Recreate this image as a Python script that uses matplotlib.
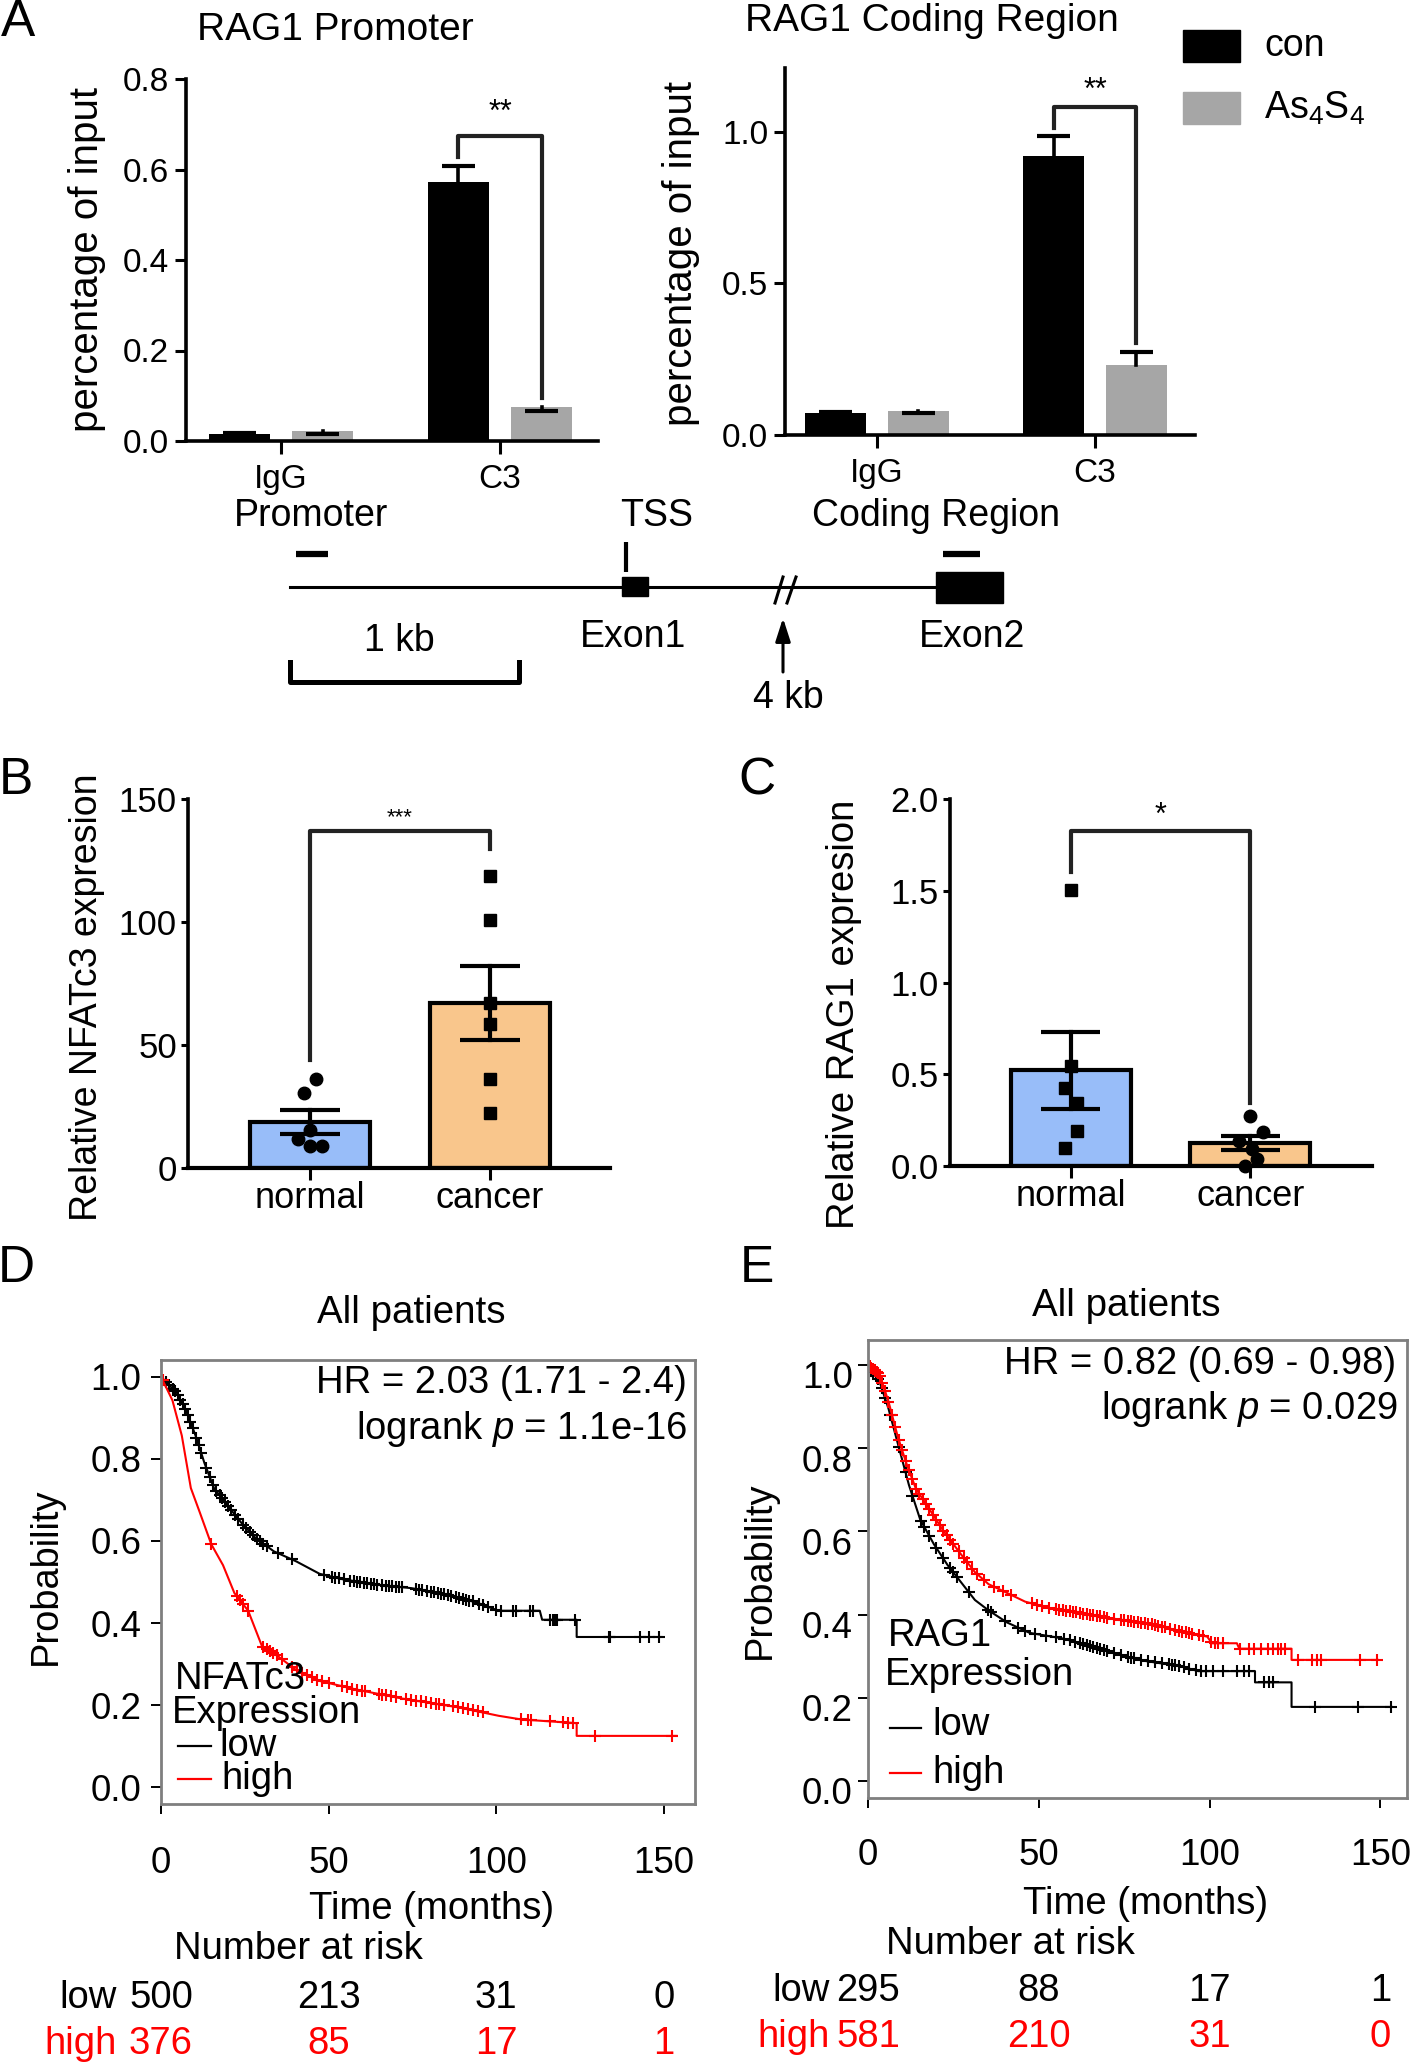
import numpy as np
import matplotlib.pyplot as plt
from matplotlib.patches import Rectangle
from matplotlib import transforms

plt.rcParams['font.family'] = ['Liberation Sans', 'DejaVu Sans']
plt.rcParams['mathtext.fontset'] = 'custom'
plt.rcParams['mathtext.rm'] = 'Liberation Sans'
plt.rcParams['mathtext.it'] = 'Liberation Sans:italic'

# ---------------- data ----------------
# A : ChIP, percentage of input (bar top and end of the error bar)
chip_groups = ['IgG', 'C3']
prom_con = [0.015, 0.572]
prom_con_end = [0.017, 0.607]
prom_as = [0.022, 0.076]
prom_as_end = [0.015, 0.067]
cod_con = [0.071, 0.920]
cod_con_end = [0.076, 0.986]
cod_as = [0.080, 0.231]
cod_as_end = [0.071, 0.275]

# B / C : relative expression
tissue = ['normal', 'cancer']
nfat_mean = [18.7, 67.2]
nfat_sem = [4.75, 15.1]
nfat_normal = [36.2, 30.5, 15.6, 11.8, 9.1, 9.1]
nfat_cancer = [118.8, 100.7, 66.9, 58.6, 36.0, 22.4]
rag_mean = [0.521, 0.127]
rag_sem = [0.21, 0.038]
rag_normal = [1.506, 0.543, 0.425, 0.344, 0.19, 0.10]
rag_cancer = [0.275, 0.185, 0.136, 0.09, 0.04, 0.0]

# D : KM NFATc3
d_low_t = [0, 4.8, 7.5, 10.3, 13, 15.8, 19.9, 24, 28, 33.6, 40.4, 47.3, 54, 63.7, 74.7,
           82.9, 93.8, 100.7, 113, 113.7, 124, 124, 149.3]
d_low_s = [1.0, 0.96, 0.917, 0.857, 0.789, 0.729, 0.686, 0.644, 0.609, 0.575, 0.55, 0.52,
           0.507, 0.494, 0.485, 0.473, 0.451, 0.43, 0.43, 0.408, 0.408, 0.366, 0.366]
d_low_cens = [1.5, 2.5, 3.5, 4.2, 5, 5.8, 6.5, 7.2, 8, 8.8, 9.5, 10.5, 11.2, 12, 13.5, 14.5,
              15.5, 16.5, 17.5, 18.2, 19, 20, 21, 22, 23, 24.5, 25.5, 26.5, 27.5, 28.5, 29.5,
              30.5, 31.5, 35, 39, 48.6, 51, 52, 53, 54.5, 56.5, 57.5, 58.5, 59.5, 60.5, 61.5,
              62.5, 63.5, 64.5, 66, 67, 68, 69, 70, 71, 72, 76, 77, 78, 79.5, 80.5, 81.5, 82.5,
              83.5, 84.5, 85.5, 86.5, 88, 89, 90, 91, 92, 93, 95, 96, 97.5, 100, 101.5, 105,
              106, 110, 111, 116, 116.8, 117.5, 118, 123.5, 133.6, 134, 143, 145.5, 148.6]
d_high_t = [0, 3.4, 6.2, 8.9, 11.6, 15, 18.5, 21.9, 26, 30.1, 34.9, 40.4, 47.3, 58.2, 71.9,
            88.4, 100.7, 107.5, 124, 124, 153.8]
d_high_s = [1.0, 0.943, 0.857, 0.729, 0.669, 0.592, 0.541, 0.473, 0.43, 0.344, 0.319, 0.285,
            0.259, 0.238, 0.216, 0.195, 0.174, 0.165, 0.156, 0.125, 0.125]
d_high_cens = [0.5, 15, 22.6, 23.5, 24.5, 26, 30.5, 31.5, 32.5, 33.5, 34.5, 36, 39, 40.5, 42,
               43.5, 45, 46.5, 48, 50, 54, 55.5, 57, 58.5, 60, 61, 65, 66, 67, 68.5, 70, 73,
               74.5, 76, 77.5, 79, 80.5, 82, 83, 84.5, 87, 88.5, 90, 91.5, 93, 94.5, 96, 107.5,
               109.5, 110.5, 116, 120, 121.5, 123, 129.5, 152.5]
d_risk_low = ['500', '213', '31', '0']
d_risk_high = ['376', '85', '17', '1']

# E : KM RAG1
e_low_t = [0, 3.3, 6, 8.7, 12, 15.3, 19.3, 23.3, 27.3, 31.3, 35.3, 40.7, 47.3, 56.7, 64.7,
           72.7, 80.7, 91.3, 96.7, 113.3, 113.3, 124, 124, 153.3]
e_low_s = [1.0, 0.962, 0.895, 0.812, 0.711, 0.628, 0.569, 0.519, 0.477, 0.435, 0.41, 0.381,
           0.356, 0.343, 0.326, 0.305, 0.289, 0.276, 0.264, 0.264, 0.237, 0.237, 0.178, 0.178]
e_low_cens = [0.8, 1.5, 2.3, 3, 4, 5, 6.5, 9, 11, 13, 15.5, 16.5, 18, 20, 22, 24, 25, 26, 29.5,
              35, 36, 40, 44, 46, 49, 52, 55, 57.5, 59, 60.5, 62, 63, 64, 65, 66, 67, 68, 69,
              70, 72, 74, 76, 77, 78, 80, 82, 84, 86, 88, 89, 90, 91, 92.5, 94, 96, 97.5, 99,
              101, 104, 108, 110, 111.5, 116, 117.5, 118.5, 131, 143.5, 153]
e_high_t = [0, 3.3, 6, 8.7, 11.3, 14, 18, 22, 27.3, 31.3, 35.3, 40.7, 46, 54, 63.3, 72.7, 83.3,
            91.3, 99.3, 100.7, 108, 108.7, 124, 124, 149.3]
e_high_s = [1.0, 0.979, 0.912, 0.828, 0.762, 0.703, 0.653, 0.602, 0.544, 0.502, 0.473, 0.452,
            0.431, 0.414, 0.402, 0.389, 0.377, 0.36, 0.347, 0.331, 0.331, 0.318, 0.318, 0.291,
            0.291]
e_high_cens = [0.5, 1, 1.5, 2, 2.5, 3, 3.5, 4.2, 5, 6, 7, 8, 9, 10, 11, 12, 13, 14, 15, 16, 17,
               18, 19, 20, 21, 22, 23, 24, 25, 26.5, 28, 29, 30.5, 32, 34, 37, 39.5, 42, 48,
               49.5, 51, 53, 55, 56, 57, 58, 59, 60, 61, 62, 63, 64, 65, 66, 67, 68, 69, 70, 72,
               74, 75, 76, 77, 78, 79, 80, 81, 82, 83, 84, 85, 86, 87, 88.5, 90, 91, 92, 93, 94,
               95, 97, 98, 100.5, 101.5, 102.5, 104, 109, 111.5, 113, 115, 117, 118.5, 120, 121,
               122, 126, 130, 131.5, 132.5, 144, 149]
e_risk_low = ['295', '88', '17', '1']
e_risk_high = ['581', '210', '31', '0']
km_times = [0, 50, 100, 150]

# ---------------- layout ----------------
W, H = 1413, 2065
fig = plt.figure(figsize=(W / 100, H / 100), dpi=100)


def axes_px(l, t, r, b):
    return fig.add_axes([l / W, 1 - b / H, (r - l) / W, (b - t) / H])


# overlay in pixel coordinates for labels and the gene scheme
ov = fig.add_axes([0, 0, 1, 1], zorder=10)
ov.set_xlim(0, W)
ov.set_ylim(H, 0)
ov.axis('off')
ov.patch.set_alpha(0)

FS = 27


def txt(x, y, s, size=FS, **kw):
    kw.setdefault('ha', 'center')
    kw.setdefault('va', 'center')
    ov.text(x, y, s, fontsize=size, **kw)


def graphpad_axes(ax):
    for sp in ['top', 'right']:
        ax.spines[sp].set_visible(False)
    for sp in ['left', 'bottom']:
        ax.spines[sp].set_linewidth(2.6)


# ---------------- A ----------------
def chip_panel(ax, con, con_end, asv, as_end, ylim, yticks, ylabels, xpad):
    x = np.arange(len(chip_groups))
    off, w, cw = 0.19, 0.28, 0.075
    ax.bar(x - off, con, w, color='black', zorder=2)
    ax.bar(x + off, asv, w, color='#a6a6a6', zorder=2)
    for xs, tops, ends in [(x - off, con, con_end), (x + off, asv, as_end)]:
        for xi, tp, en in zip(xs, tops, ends):
            ax.plot([xi, xi], [tp, en], color='k', lw=2.6, zorder=3)
            ax.plot([xi - cw, xi + cw], [en, en], color='k', lw=3, zorder=3,
                    solid_capstyle='butt')
    graphpad_axes(ax)
    ax.set_ylim(*ylim)
    ax.set_yticks(yticks)
    ax.set_yticklabels(ylabels, fontsize=24)
    ax.set_xticks(x)
    ax.set_xticklabels(chip_groups, fontsize=24)
    ax.tick_params(axis='y', length=8, width=2.2, pad=4)
    ax.tick_params(axis='x', length=9.5, width=2.2, pad=xpad)
    ax.patch.set_alpha(0)


axA1 = axes_px(186, 79, 598, 441)
chip_panel(axA1, prom_con, prom_con_end, prom_as, prom_as_end, (0, 0.8),
           [0, 0.2, 0.4, 0.6, 0.8], ['0.0', '0.2', '0.4', '0.6', '0.8'], 7)
axA1.set_xlim(-0.434, 1.447)
axA1.plot([0.81, 0.81, 1.19, 1.19], [0.627, 0.675, 0.675, 0.094], color='#222222', lw=3,
          zorder=4)
axA1.text(1.0, 0.707, '**', fontsize=22, ha='center', va='baseline')

axA2 = axes_px(785, 68, 1195, 435)
chip_panel(axA2, cod_con, cod_con_end, cod_as, cod_as_end, (0, 1.21),
           [0, 0.5, 1.0], ['0.0', '0.5', '1.0'], 7)
axA2.set_xlim(-0.422, 1.459)
axA2.plot([0.81, 0.81, 1.19, 1.19], [1.011, 1.082, 1.082, 0.302], color='#222222', lw=3,
          zorder=4)
axA2.text(1.0, 1.109, '**', fontsize=22, ha='center', va='baseline')

txt(18, 22, 'A', 37)
txt(335, 30, 'RAG1 Promoter', 28)
txt(932, 21, 'RAG1 Coding Region', 28)
txt(87, 259, 'percentage of input', 29, rotation=90)
txt(681, 253, 'percentage of input', 29, rotation=90)
ov.add_patch(Rectangle((1183, 30), 57, 32, color='black'))
ov.add_patch(Rectangle((1183, 92), 57, 32, color='#a6a6a6'))
txt(1264, 46, 'con', 27, ha='left')
txt(1264, 108, 'As$_4$S$_4$', 27, ha='left')

# gene scheme
ov.plot([290, 936], [587, 587], color='k', lw=2.2)
ov.add_patch(Rectangle((622, 577), 26, 19, color='k'))
ov.add_patch(Rectangle((936, 572), 67, 31, color='k'))
ov.plot([626, 626], [542, 572], color='k', lw=3, solid_capstyle='butt')
ov.plot([296, 328], [554, 554], color='k', lw=4.5, solid_capstyle='butt')
ov.plot([943, 980], [554, 554], color='k', lw=4.5, solid_capstyle='butt')
ov.plot([775, 783], [603, 577], color='k', lw=2.2)
ov.plot([787, 796], [603, 577], color='k', lw=2.2)
ov.plot([290, 290, 519, 519], [662, 682, 682, 662], color='k', lw=3.6)
ov.annotate('', xy=(783, 618), xytext=(783, 672),
            arrowprops=dict(arrowstyle='-|>,head_length=1.4,head_width=0.45', color='k',
                            lw=2.2, shrinkA=0, shrinkB=0))
txt(311, 516, 'Promoter')
txt(657, 516, 'TSS')
txt(936, 516, 'Coding Region')
txt(633, 637, 'Exon1')
txt(972, 637, 'Exon2')
txt(399, 641, '1 kb')
txt(788, 698, '4 kb')


# ---------------- B / C ----------------
def expr_panel(ax, means, sems, pts, dxs, marks, ylim, yticks, ylabels):
    x = np.arange(len(tissue))
    ax.bar(x, means, 0.67, color=['#98bdf9', '#f9c68c'], edgecolor='black', linewidth=3,
           zorder=2)
    for xi, p, dx, mk in zip(x, pts, dxs, marks):
        ax.plot(xi + np.array(dx), p, ls='none', marker=mk, ms=9, color='k', zorder=3,
                clip_on=False)
    for xi, m, e in zip(x, means, sems):
        ax.plot([xi, xi], [m - e, m + e], color='k', lw=3, zorder=4)
        for yy in (m - e, m + e):
            ax.plot([xi - 0.165, xi + 0.165], [yy, yy], color='k', lw=3, zorder=4,
                    solid_capstyle='butt')
    graphpad_axes(ax)
    ax.spines['bottom'].set_linewidth(3)
    ax.set_ylim(*ylim)
    ax.set_yticks(yticks)
    ax.set_yticklabels(ylabels, fontsize=25)
    ax.set_xticks(x)
    ax.set_xticklabels(tissue, fontsize=26)
    ax.tick_params(axis='y', length=5, width=2.2, pad=3)
    ax.tick_params(axis='x', length=8.6, width=2.2, pad=1)
    ax.patch.set_alpha(0)


axB = axes_px(188, 799, 610, 1168)
expr_panel(axB, nfat_mean, nfat_sem, [nfat_normal, nfat_cancer],
           [[0.033, -0.033, 0, -0.067, 0, 0.067], [0, 0, 0, 0, 0, 0]], ['o', 's'],
           (0, 150), [0, 50, 100, 150], ['0', '50', '100', '150'])
axB.set_xlim(-0.678, 1.667)
axB.plot([0, 0, 1, 1], [44.1, 137.1, 137.1, 129.6], color='#222222', lw=3, zorder=4)
axB.text(0.5, 140.2, '***', fontsize=16, ha='center', va='baseline')

axC = axes_px(950, 799, 1372, 1166)
expr_panel(axC, rag_mean, rag_sem, [rag_normal, rag_cancer],
           [[0, 0, -0.03, 0.033, 0.033, -0.03], [0, 0.07, -0.06, 0.01, 0.04, -0.03]],
           ['s', 'o'], (0, 2.0), [0, 0.5, 1.0, 1.5, 2.0],
           ['0.0', '0.5', '1.0', '1.5', '2.0'])
axC.set_xlim(-0.672, 1.678)
axC.plot([0, 0, 1, 1], [1.602, 1.824, 1.824, 0.344], color='#222222', lw=3, zorder=4)
axC.text(0.5, 1.864, '*', fontsize=22, ha='center', va='baseline')

txt(16, 781, 'B', 37)
txt(757, 781, 'C', 37)
txt(87, 997, 'Relative NFATc3 expresion', 27, rotation=90)
txt(844, 1014, 'Relative RAG1 expresion', 27.5, rotation=90)


# ---------------- D / E ----------------
def km_panel(ax, low_t, low_s, low_c, high_t, high_s, high_c, xmax, ylim, xpad, ypad):
    for t, s, c, col in [(low_t, low_s, low_c, 'black'), (high_t, high_s, high_c, 'red')]:
        ax.plot(t, s, color=col, lw=1.5)
        ax.plot(c, np.interp(c, t, s), ls='none', marker='+', ms=8, mew=1.5, color=col)
    ax.set_xlim(0, xmax)
    ax.set_ylim(*ylim)
    ax.set_xticks(km_times)
    ax.set_xticklabels([str(v) for v in km_times], fontsize=26.5)
    ax.set_yticks([0, 0.2, 0.4, 0.6, 0.8, 1.0])
    ax.set_yticklabels(['0.0', '0.2', '0.4', '0.6', '0.8', '1.0'], fontsize=26.5)
    ax.tick_params(axis='x', length=7, width=1.4, pad=xpad)
    ax.tick_params(axis='y', length=7, width=1.4, pad=ypad)
    for sp in ax.spines.values():
        sp.set_color('#7f7f7f')
        sp.set_linewidth(2)
    ax.patch.set_alpha(0)


axD = axes_px(161, 1360, 695, 1804)
km_panel(axD, d_low_t, d_low_s, d_low_cens, d_high_t, d_high_s, d_high_cens, 159.3,
         (-0.041, 1.041), 23, 7)
axE = axes_px(868, 1340, 1407, 1798)
km_panel(axE, e_low_t, e_low_s, e_low_cens, e_high_t, e_high_s, e_high_cens, 157.8,
         (-0.041, 1.06), 22, 4)
for lab in axE.get_yticklabels():
    lab.set_transform(lab.get_transform() +
                      transforms.ScaledTranslation(0, -0.1, fig.dpi_scale_trans))

txt(16, 1269, 'D', 37)
txt(757, 1269, 'E', 37)
txt(411, 1313, 'All patients', 27.7)
txt(1126, 1306, 'All patients', 27.7)
txt(687, 1383, 'HR = 2.03 (1.71 - 2.4)', 27.5, ha='right')
txt(687, 1429, 'logrank $p$ = 1.1e-16', 27.5, ha='right')
txt(1396, 1364, 'HR = 0.82 (0.69 - 0.98)', 27.5, ha='right')
txt(1398, 1409, 'logrank $p$ = 0.029', 27.5, ha='right')
txt(46, 1576, 'Probability', 27.4, rotation=90)
txt(760, 1570, 'Probability', 27.4, rotation=90)

# legends inside the KM boxes
txt(175, 1679, 'NFATc3', 27.5, ha='left')
txt(172, 1713, 'Expression', 27.5, ha='left')
ov.plot([178, 211], [1746, 1746], color='black', lw=1.6)
ov.plot([178, 211], [1779, 1779], color='red', lw=1.6)
txt(219, 1746, 'low', 27.5, ha='left')
txt(221, 1779, 'high', 27.5, ha='left')
txt(888, 1636, 'RAG1', 27.5, ha='left')
txt(885, 1675, 'Expression', 27.5, ha='left')
ov.plot([890, 921], [1728, 1728], color='black', lw=1.6)
ov.plot([890, 921], [1773, 1773], color='red', lw=1.6)
txt(932, 1725, 'low', 27.5, ha='left')
txt(932, 1773, 'high', 27.5, ha='left')

txt(432, 1909, 'Time (months)', 27.5)
txt(1146, 1904, 'Time (months)', 27.5)
txt(298, 1949, 'Number at risk', 27.5)
txt(1010, 1944, 'Number at risk', 27.5)

# number at risk tables
for ax, rl, rh, xname, ylow, yhigh in [(axD, d_risk_low, d_risk_high, 117, 1998, 2044),
                                       (axE, e_risk_low, e_risk_high, 830, 1991, 2037)]:
    bt = transforms.blended_transform_factory(ax.transData, ov.transData)
    txt(xname, ylow, 'low', 27.5, ha='right')
    txt(xname, yhigh, 'high', 27.5, ha='right', color='red')
    for t, a, b in zip(km_times, rl, rh):
        ov.text(t, ylow, a, fontsize=27.5, ha='center', va='center', transform=bt)
        ov.text(t, yhigh, b, fontsize=27.5, ha='center', va='center', color='red', transform=bt)

fig.savefig('out.png', dpi=100)
